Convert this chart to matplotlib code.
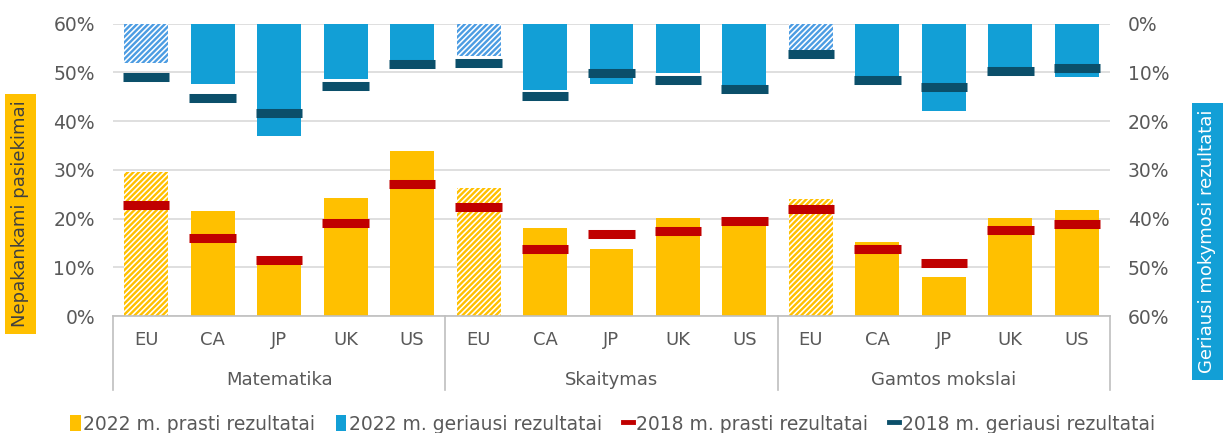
import numpy as np
import matplotlib.pyplot as plt
from matplotlib.patches import Patch
from matplotlib.lines import Line2D

plt.rcParams['font.family'] = ['DejaVu Sans']
plt.rcParams['hatch.linewidth'] = 1.7

# data
subjects = ["Matematika", "Skaitymas", "Gamtos mokslai"]
countries = ["EU", "CA", "JP", "UK", "US"]

low_2022 = [29.5, 21.5, 10.5, 24.2, 33.8,
            26.2, 18.0, 13.7, 20.1, 18.6,
            24.1, 15.2, 7.9, 20.1, 21.7]
low_2018 = [22.7, 16.1, 11.4, 19.0, 27.0,
            22.3, 13.7, 16.8, 17.4, 19.4,
            22.0, 13.8, 10.9, 17.6, 18.8]
top_2022 = [8.0, 12.5, 23.0, 11.4, 7.5,
            6.6, 13.6, 12.5, 10.2, 13.0,
            5.4, 10.9, 18.0, 10.0, 11.0]
top_2018 = [11.0, 15.3, 18.4, 12.9, 8.4,
            8.2, 14.9, 10.2, 11.5, 13.5,
            6.3, 11.5, 13.1, 9.8, 9.2]

yellow = "#FFC000"
blue = "#129FD6"
blue_h = "#4C9CE2"
red = "#C00000"
teal = "#0B4F6A"
grey = "#595959"

x = np.arange(len(low_2022))
is_eu = [i % 5 == 0 for i in x]
bw = 0.66
mw = 0.70

fig = plt.figure(figsize=(12.25, 4.33), dpi=100)
ax = fig.add_axes([113/1225, 1 - 316/433, 997/1225, 292.5/433])
ax2 = ax.twinx()

# yellow bars (left axis)
for i in x:
    if is_eu[i]:
        ax.bar(i, low_2022[i], bw, facecolor="white", edgecolor=yellow,
               hatch="//////", linewidth=0, zorder=2)
    else:
        ax.bar(i, low_2022[i], bw, color=yellow, zorder=2)
ax.hlines(low_2018, x - mw/2, x + mw/2, color=red, linewidth=6.5, zorder=3)

# blue bars hanging from top (right axis, inverted)
for i in x:
    if is_eu[i]:
        ax2.bar(i, top_2022[i], bw, facecolor="white", edgecolor=blue_h,
                hatch="//////", linewidth=0, zorder=2)
    else:
        ax2.bar(i, top_2022[i], bw, color=blue, zorder=2)
ax2.hlines(top_2018, x - mw/2, x + mw/2, color=teal, linewidth=6.5, zorder=3)

ax.set_xlim(-0.5, len(x) - 0.5)
ax.set_ylim(0, 60)
ax2.set_ylim(60, 0)
yt = np.arange(0, 61, 10)
ax.set_yticks(yt, [f"{v}%" for v in yt])
ax2.set_yticks(yt, [f"{v}%" for v in yt])
ax.grid(axis="y", color="#D9D9D9", linewidth=1.2, zorder=0)
ax.set_axisbelow(True)

for a in (ax, ax2):
    for s in ("top", "left", "right", "bottom"):
        a.spines[s].set_visible(False)
    a.tick_params(axis="y", length=0, labelsize=13.5, labelcolor=grey, pad=13)
ax.spines["bottom"].set_visible(True)
ax.spines["bottom"].set_color("#BFBFBF")
ax.spines["bottom"].set_linewidth(1.2)

ax.set_xticks(x, countries * 3)
ax.tick_params(axis="x", length=0, labelsize=13, labelcolor=grey, pad=11)

# group separators and labels
for b in [-0.5, 4.5, 9.5, 14.5]:
    ax.axvline(b, ymin=-0.253, ymax=0, clip_on=False, color="#BFBFBF", linewidth=1.2)
for k, name in enumerate(subjects):
    ax.text(k * 5 + 2, -0.219, name, transform=ax.get_xaxis_transform(),
            ha="center", va="center", fontsize=13, color=grey)

# axis titles in coloured boxes
fig.text(20.5/1225, 1 - 214/433, "Nepakankami pasiekimai", rotation=90,
         ha="center", va="center", fontsize=13, color="#404040",
         bbox=dict(facecolor=yellow, edgecolor="none", pad=4.5))
fig.text(1207.5/1225, 1 - 241.5/433, "Geriausi mokymosi rezultatai", rotation=90,
         ha="center", va="center", fontsize=13, color="white",
         bbox=dict(facecolor=blue, edgecolor="none", pad=4.5))

handles = [Patch(facecolor=yellow), Patch(facecolor=blue),
           Line2D([], [], color=red, linewidth=3.5),
           Line2D([], [], color=teal, linewidth=3.5)]
labels = ["2022 m. prasti rezultatai", "2022 m. geriausi rezultatai",
          "2018 m. prasti rezultatai", "2018 m. geriausi rezultatai"]
fig.legend(handles, labels, loc="center", bbox_to_anchor=(0.5, 1 - 424/433),
           ncol=4, frameon=False, fontsize=13.5, labelcolor=grey,
           handlelength=0.55, handleheight=0.9, handletextpad=0.15,
           columnspacing=1.1, borderaxespad=0, borderpad=0)

fig.savefig("out.png", dpi=100)
